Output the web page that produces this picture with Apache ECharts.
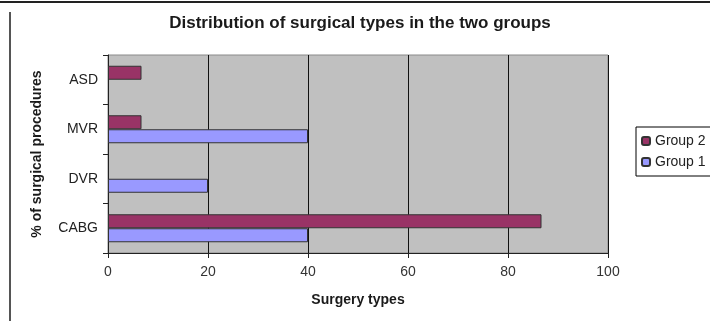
<!DOCTYPE html>
<html>
<head>
<meta charset="utf-8">
<script src="https://cdn.jsdelivr.net/npm/echarts@6/dist/echarts.min.js"></script>
<style>
  html, body { margin: 0; padding: 0; background: #fff; }
  #chart { width: 710px; height: 321px; }
</style>
</head>
<body>
<div id="chart"></div>
<script>
// Surgical procedure categories (bottom to top on the y axis)
const categories = ['CABG', 'DVR', 'MVR', 'ASD'];
// Percentage of procedures per group
const group1 = [40, 20, 40, 0];
const group2 = [86.7, 0, 6.7, 6.7];
const xTicks = [0, 20, 40, 60, 80, 100];

// Empty categories get no bar at all (no zero-width outline)
const asBars = arr => arr.map(v => (v === 0 ? '-' : v));

const font = 'Arial, "Liberation Sans", sans-serif';
const chart = echarts.init(document.getElementById('chart'));

chart.setOption({
  animation: false,
  backgroundColor: '#ffffff',
  title: {
    text: 'Distribution of surgical types in the two groups',
    left: 355,
    textAlign: 'center',
    top: 10,
    textStyle: { fontFamily: font, fontSize: 17, fontWeight: 'bold', color: '#1a1a1a' }
  },
  legend: {
    orient: 'vertical',
    left: 636,
    top: 127,
    data: ['Group 2', 'Group 1'],
    itemWidth: 8,
    itemHeight: 8,
    itemGap: 7,
    padding: [7, 20, 7, 5],
    borderColor: '#000',
    borderWidth: 1,
    textStyle: { fontFamily: font, fontSize: 14, color: '#222' }
  },
  grid: {
    left: 108, right: 102, top: 55, bottom: 68,
    show: true,
    backgroundColor: '#c0c0c0',
    borderColor: '#8a8a8a',
    borderWidth: 1
  },
  xAxis: {
    type: 'value',
    min: xTicks[0],
    max: xTicks[xTicks.length - 1],
    interval: 20,
    name: 'Surgery types',
    nameLocation: 'middle',
    nameGap: 40,
    nameTextStyle: { fontFamily: font, fontSize: 14, fontWeight: 'bold', color: '#1a1a1a' },
    axisLine: { show: true, lineStyle: { color: '#222', width: 1 } },
    axisTick: { show: true, length: 5, lineStyle: { color: '#222' } },
    axisLabel: { fontFamily: font, fontSize: 14, color: '#333', margin: 12 },
    splitLine: { show: true, lineStyle: { color: '#111', width: 1 } }
  },
  yAxis: {
    type: 'category',
    data: categories,
    name: '% of surgical procedures',
    nameLocation: 'middle',
    nameGap: 64,
    nameRotate: 90,
    nameTextStyle: { fontFamily: font, fontSize: 14, fontWeight: 'bold', color: '#1a1a1a' },
    axisLine: { show: true, lineStyle: { color: '#222', width: 1 } },
    axisTick: { show: true, length: 5, lineStyle: { color: '#222' } },
    axisLabel: { fontFamily: font, fontSize: 14, color: '#222', margin: 10 },
    splitLine: { show: false }
  },
  series: [
    {
      name: 'Group 2',
      type: 'bar',
      data: asBars(group2),
      barWidth: 14,
      barGap: '0%',
      itemStyle: { color: '#993366', borderColor: '#333', borderWidth: 1 }
    },
    {
      name: 'Group 1',
      type: 'bar',
      data: asBars(group1),
      barWidth: 14,
      barGap: '0%',
      itemStyle: { color: '#9999ff', borderColor: '#333', borderWidth: 1 }
    }
  ],
  graphic: [
    { type: 'rect', shape: { x: 0, y: 1, width: 710, height: 2 }, style: { fill: '#222' } },
    { type: 'rect', shape: { x: 9, y: 12, width: 2, height: 309 }, style: { fill: '#555' } }
  ]
});
</script>
</body>
</html>
